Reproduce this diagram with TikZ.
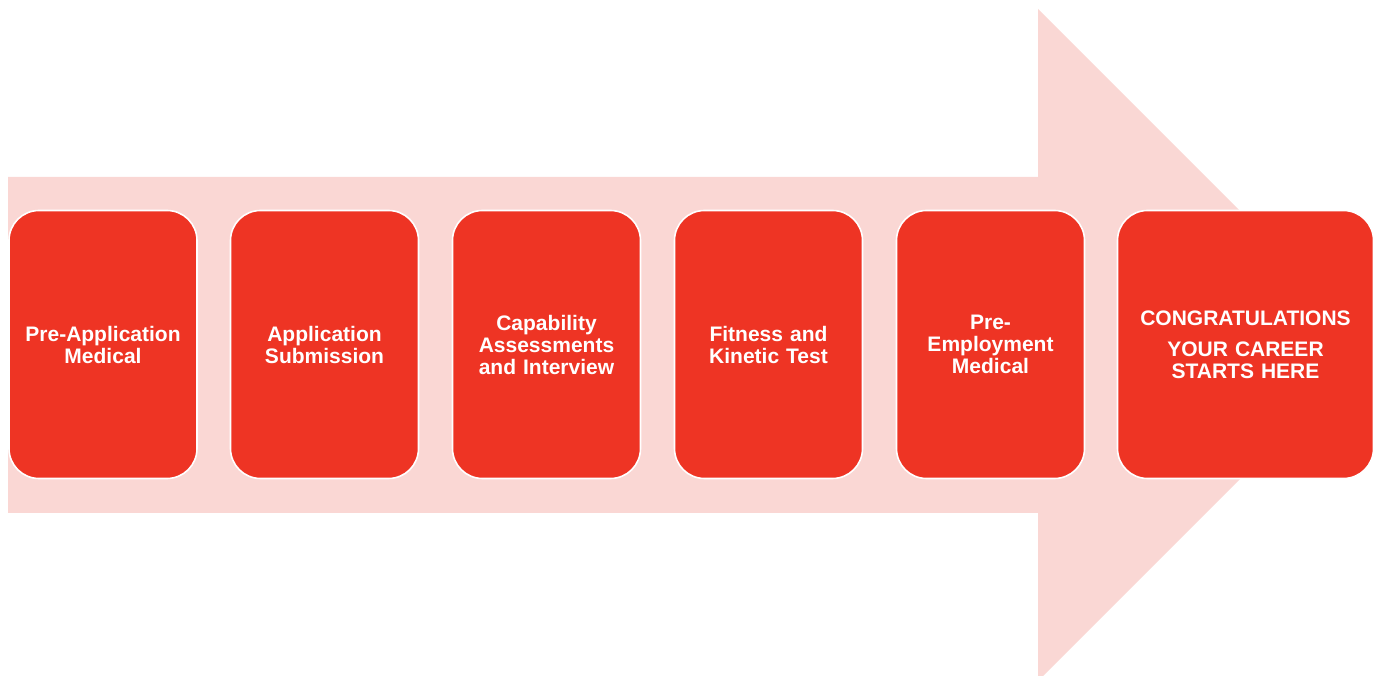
\documentclass[tikz,border=0pt]{standalone}
\usepackage{fontspec}
\setmainfont{Liberation Sans}
\definecolor{stepred}{HTML}{EE3424}
\definecolor{arrowpink}{HTML}{FAD7D4}
\begin{document}
\begin{tikzpicture}[x=1pt,y=1pt,
  stagebox/.style={draw=white, line width=1.6pt, fill=stepred, rounded corners=30pt,
    minimum height=268pt, inner sep=0pt, text=white, align=center,
    font=\fontsize{21}{22}\selectfont\bfseries},
  stepbox/.style={stagebox, minimum width=188pt, text width=180pt},
  finalbox/.style={stagebox, minimum width=256pt, text width=246pt}]
\useasboundingbox (0,0) rectangle (1379,675);
\begin{scope}
\clip (0,0) rectangle (1379,675);
% background arrow
\fill[arrowpink] (8,498) -- (1038,498) -- (1038,666) -- (1374,330)
  -- (1038,-6) -- (1038,162) -- (8,162) -- cycle;
\end{scope}
% process stages
\node[stepbox] (s1) at (103,330.5) {Pre-Application\\Medical};
\node[stepbox] (s2) at (324.5,330.5) {Application\\Submission};
\node[stepbox] (s3) at (546.5,330.5) {Capability\\Assessments\\and Interview};
\node[stepbox] (s4) at (768.5,330.5) {Fitness and\\Kinetic Test};
\node[stepbox] (s5) at (990.5,330.5) {Pre-\\Employment\\Medical};
\node[finalbox] (s6) at (1245.5,330.5) {CONGRATULATIONS\\[9pt]YOUR CAREER\\STARTS HERE};
\end{tikzpicture}
\end{document}
